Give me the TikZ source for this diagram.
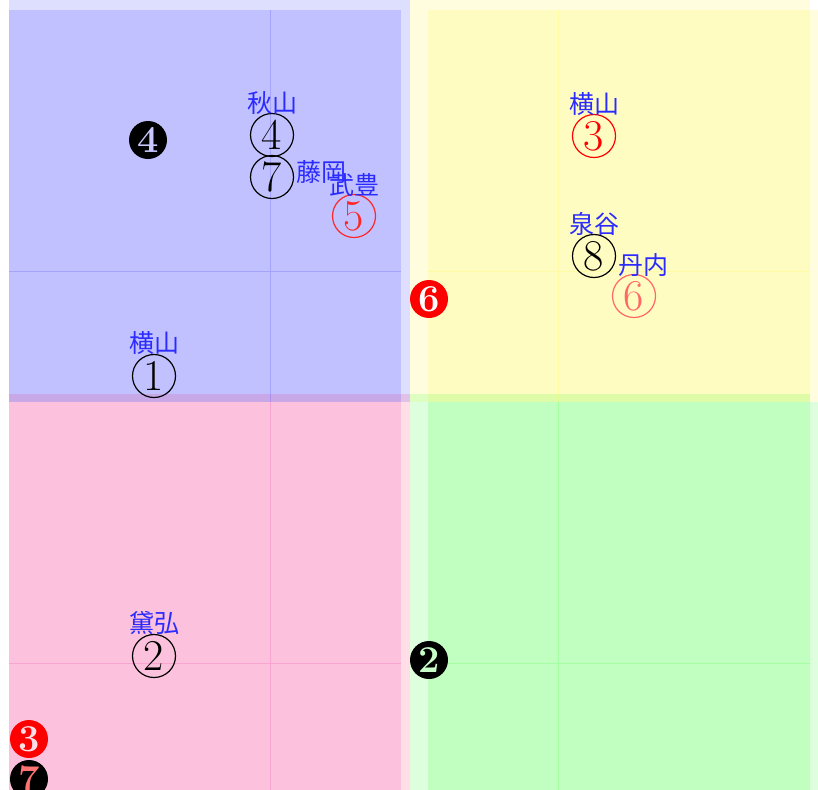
\documentclass[tikz,border=0pt]{standalone}
\usepackage{fontspec}
\newfontfamily\jfont{Noto Sans CJK JP}
\usetikzlibrary{positioning}
\definecolor{namecol}{HTML}{2B2BFF}
\definecolor{holeblue}{RGB}{200,200,255}
\definecolor{holegreen}{RGB}{200,255,200}
\definecolor{holepink}{RGB}{255,222,232}

\begin{document}
\begin{tikzpicture}[x=0.5pt,y=-0.5pt,
shade/.style={fill=#1,fill opacity=.13,draw=none},
gridline/.style={draw=#1,draw opacity=.15,line width=.5pt},
ring/.style={circle,draw=#1,text=#1,line width=.6pt,inner sep=0pt,minimum size=21.5pt,font=\fontsize{22}{22}\selectfont},
disc/.style={circle,fill=#1,inner sep=0pt,minimum size=19pt,font=\fontsize{19}{19}\selectfont\bfseries},
jockey/.style={text=namecol,inner sep=0pt,font=\fontsize{12.5}{14}\selectfont\jfont}]
\useasboundingbox (0,0) rectangle (818,789);
% quadrants
\fill[shade=blue] (9,0) rectangle (410,402);
\fill[shade=blue] (9,10) rectangle (401,402);
\fill[shade=yellow] (410,0) rectangle (810,402);
\fill[shade=yellow] (428,10) rectangle (818,402);
\fill[shade=red!70!magenta] (9,394) rectangle (410,800);
\fill[shade=magenta] (9,402) rectangle (401,800);
\fill[shade=green] (410,394) rectangle (810,800);
\fill[shade=green] (428,402) rectangle (818,800);
% grid
\draw[gridline=blue] (270,10) -- (270,402) (9,271) -- (401,271);
\draw[gridline=yellow] (558,10) -- (558,402) (428,271) -- (810,271);
\draw[gridline=magenta] (270,402) -- (270,800) (9,663) -- (401,663);
\draw[gridline=green] (558,402) -- (558,800) (428,663) -- (810,663);
% circled numbers
\node[ring=black] (r4) at (272,135) {4};
\node[ring=black] (r7) at (272,177) {7};
\node[ring=red!85] (r5) at (354,216) {5};
\node[ring=black] (r1) at (154,376) {1};
\node[ring=red] (r3) at (594,136) {3};
\node[ring=black] (r8) at (594,256) {8};
\node[ring=red!60] (r6) at (634,296) {6};
\node[ring=black] (r2) at (154,656) {2};
% names
\node[jockey,above=-1pt of r4] (n4) {秋山};
\node[jockey,right=1.2pt of r7,yshift=2.5pt] (n7) {藤岡};
\node[jockey,above=-1.5pt of r5] (n5) {武豊};
\node[jockey,above=-0.5pt of r1] (n1) {横山};
\node[jockey,above=-1pt of r3] (n3) {横山};
\node[jockey,above=-1pt of r8] (n8) {泉谷};
\node[jockey,above=-1.5pt of r6,xshift=4.5pt] (n6) {丹内};
\node[jockey,above=-0.5pt of r2] (n2) {黛弘};
% filled markers
\node[disc=black,text=holeblue] (d4) at (148,140) {4};
\node[disc=red,text=white] (d6) at (429,299) {6};
\node[disc=black,text=holegreen] (d2) at (429,660) {2};
\node[disc=red,text=holepink] (d3) at (29,739) {3};
\node[disc=black,text=red!55!white] (d7) at (29,779) {7};
\end{tikzpicture}
\end{document}
